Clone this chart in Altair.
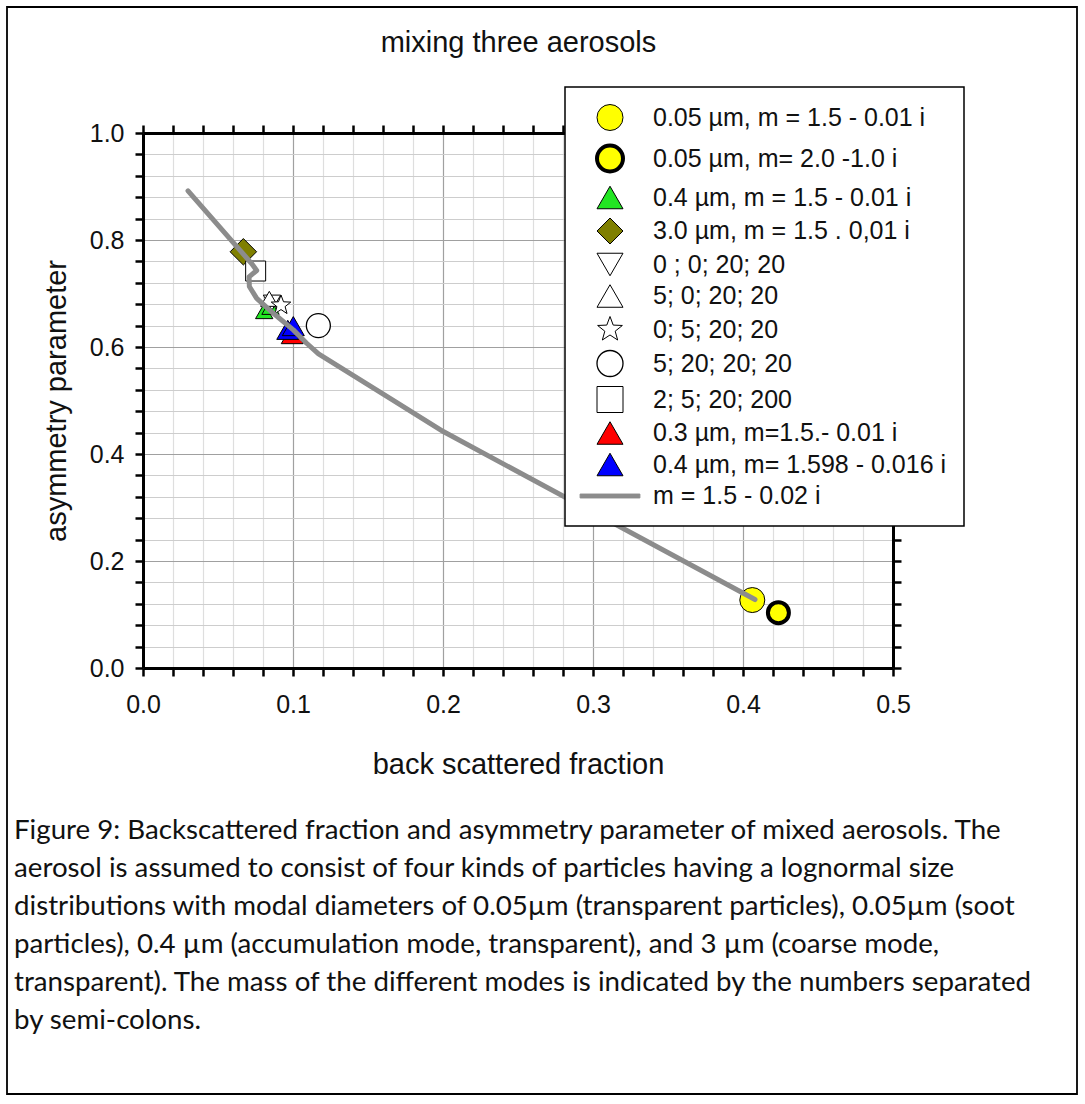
import altair as alt
import pandas as pd

# ---------------------------------------------------------------------------
# Legend entries (one per aerosol / mixture) and the model curve label
# ---------------------------------------------------------------------------
SERIES = [
    "0.05 µm, m = 1.5 - 0.01 i",
    "0.05 µm, m= 2.0 -1.0 i",
    "0.4 µm, m = 1.5 - 0.01 i",
    "3.0 µm, m = 1.5 . 0,01 i",
    "0 ; 0; 20; 20",
    "5; 0; 20; 20",
    "0; 5; 20; 20",
    "5; 20; 20; 20",
    "2; 5; 20; 200",
    "0.3 µm, m=1.5.- 0.01 i",
    "0.4 µm, m= 1.598 - 0.016 i",
]
CURVE_LABEL = "m = 1.5 - 0.02 i"

# Scatter points: series, back scattered fraction, asymmetry parameter
POINT_SERIES = [
    "0.05 µm, m = 1.5 - 0.01 i",
    "0.05 µm, m= 2.0 -1.0 i",
    "0.4 µm, m = 1.5 - 0.01 i",
    "0.4 µm, m = 1.5 - 0.01 i",
    "3.0 µm, m = 1.5 . 0,01 i",
    "0 ; 0; 20; 20",
    "5; 0; 20; 20",
    "0; 5; 20; 20",
    "5; 20; 20; 20",
    "2; 5; 20; 200",
    "0.3 µm, m=1.5.- 0.01 i",
    "0.4 µm, m= 1.598 - 0.016 i",
    "0.4 µm, m= 1.598 - 0.016 i",
]
POINT_BSF = [0.4062, 0.4236, 0.0808, 0.0850, 0.0669, 0.0860, 0.0842, 0.0920,
             0.1169, 0.0751, 0.0995, 0.0965, 0.1002]
POINT_G = [0.127, 0.1034, 0.667, 0.675, 0.778, 0.683, 0.690, 0.678,
           0.640, 0.742, 0.624, 0.632, 0.639]

# Model curve m = 1.5 - 0.02 i
CURVE_BSF = [0.030, 0.0724, 0.0758, 0.0707, 0.0709, 0.0758, 0.0869, 0.1002,
             0.1091, 0.117, 0.1647, 0.2002, 0.408]
CURVE_G = [0.892, 0.756, 0.743, 0.731, 0.713, 0.691, 0.663, 0.632,
           0.607, 0.587, 0.504, 0.442, 0.128]

# Axis ticks
X_TICKS = [0.0, 0.02, 0.04, 0.06, 0.08, 0.1, 0.12, 0.14, 0.16, 0.18, 0.2,
           0.22, 0.24, 0.26, 0.28, 0.3, 0.32, 0.34, 0.36, 0.38, 0.4,
           0.42, 0.44, 0.46, 0.48, 0.5]
Y_TICKS = [0.0, 0.04, 0.08, 0.12, 0.16, 0.2, 0.24, 0.28, 0.32, 0.36, 0.4,
           0.44, 0.48, 0.52, 0.56, 0.6, 0.64, 0.68, 0.72, 0.76, 0.8,
           0.84, 0.88, 0.92, 0.96, 1.0]

CAPTION = [
    "Figure 9: Backscattered fraction and asymmetry parameter of mixed aerosols. The",
    "aerosol is assumed to consist of four kinds of particles having a lognormal size",
    "distributions with modal diameters of 0.05µm (transparent particles), 0.05µm (soot",
    "particles), 0.4 µm (accumulation mode, transparent), and 3 µm (coarse mode,",
    "transparent). The mass of the different modes is indicated by the numbers separated",
    "by semi-colons.",
]

# ---------------------------------------------------------------------------
# Marker styling per legend entry (the last one is the grey curve)
# ---------------------------------------------------------------------------
STAR = ("M0,-1L0.247,-0.34L0.951,-0.309L0.4,0.13L0.588,0.809L0,0.42"
        "L-0.588,0.809L-0.4,0.13L-0.951,-0.309L-0.247,-0.34Z")
CURVE_SYMBOL = "M-2.3,-0.15L2.3,-0.15L2.3,0.15L-2.3,0.15Z"

LEGEND_DOMAIN = SERIES + [CURVE_LABEL]
SHAPES = ["circle", "circle", "triangle-up", "diamond", "triangle-down",
          "triangle-up", STAR, "circle", "square", "triangle-up",
          "triangle-up", CURVE_SYMBOL]
FILLS = ["#ffff00", "#ffff00", "#22e622", "#7f7f00", "white", "white",
         "white", "white", "white", "#ff0000", "#0000ff", "#8c8c8c"]
STROKES = ["black"] * 11 + ["#8c8c8c"]
STROKE_WIDTHS = [1, 4, 1, 1, 1, 1, 1, 1.3, 1, 1, 1, 1]
MARKER_AREAS = [625, 441, 300, 700, 300, 300, 420, 576, 400, 484, 484]

FONT = "Liberation Sans"
W, H = 1070, 1087          # outer framed figure
X_RANGE = [136, 886]       # plot area inside the frame
Y_RANGE = [661, 126]

points = pd.DataFrame({"series": POINT_SERIES, "bsf": POINT_BSF, "g": POINT_G})
curve = pd.DataFrame({"i": list(range(len(CURVE_BSF))), "bsf": CURVE_BSF, "g": CURVE_G})

xs = alt.Scale(domain=[0, 0.5], range=X_RANGE, nice=False, zero=False)
ys = alt.Scale(domain=[0, 1], range=Y_RANGE, nice=False, zero=False)

major_x = "abs(datum.value*10 - round(datum.value*10)) < 0.001"
major_y = "abs(datum.value*5 - round(datum.value*5)) < 0.001"

legend = alt.Legend(orient="none", legendX=558, legendY=80, title=None)

axis_common = dict(domainColor="black", domainWidth=3, tickColor="black",
                   tickWidth=2.5, tickSize=8, labelFont=FONT, labelColor="#111111",
                   titleFont=FONT, titleFontWeight="normal", titleColor="#111111",
                   labelFlush=False, labelOverlap=False)

bottom_axis = alt.Axis(orient="bottom", offset=-(H - Y_RANGE[0]), values=X_TICKS,
                       labelExpr=f"{major_x} ? format(datum.value, '.1f') : ''",
                       labelFontSize=25, labelPadding=16, title="back scattered fraction",
                       titleFontSize=29, titlePadding=33, grid=False, zindex=1,
                       **axis_common)
left_axis = alt.Axis(orient="left", offset=-X_RANGE[0], values=Y_TICKS,
                     labelExpr=f"{major_y} ? format(datum.value, '.1f') : ''",
                     labelFontSize=25, labelPadding=11, title="asymmetry parameter",
                     titleFontSize=29, titlePadding=18, grid=True,
                     gridColor={"condition": {"test": major_y, "value": "#a0a0a0"}, "value": "#cdcdcd"},
                     gridOpacity={"condition": {"test": "datum.value < 0.001 || datum.value > 0.999", "value": 0}, "value": 1},
                     gridWidth=1.2, **axis_common)
top_axis = alt.Axis(orient="top", offset=-Y_RANGE[1], values=X_TICKS, labels=False,
                    title="mixing three aerosols", titleFontSize=29, titlePadding=66,
                    grid=True,
                    gridColor={"condition": {"test": major_x, "value": "#a0a0a0"}, "value": "#dedede"},
                    gridOpacity={"condition": {"test": "datum.value < 0.001 || datum.value > 0.499", "value": 0}, "value": 1},
                    gridWidth=1.2, **axis_common)
right_axis = alt.Axis(orient="right", offset=-(W - X_RANGE[1]), values=Y_TICKS,
                      labels=False, title=None, grid=False, zindex=1, **axis_common)

marks = alt.Chart(points).mark_point(filled=True, opacity=1).encode(
    x=alt.X("bsf:Q", scale=xs, axis=bottom_axis),
    y=alt.Y("g:Q", scale=ys, axis=left_axis),
    shape=alt.Shape("series:N", scale=alt.Scale(domain=LEGEND_DOMAIN, range=SHAPES), legend=legend),
    fill=alt.Fill("series:N", scale=alt.Scale(domain=LEGEND_DOMAIN, range=FILLS), legend=legend),
    stroke=alt.Stroke("series:N", scale=alt.Scale(domain=LEGEND_DOMAIN, range=STROKES), legend=legend),
    strokeWidth=alt.StrokeWidth("series:N", scale=alt.Scale(type="ordinal", domain=LEGEND_DOMAIN, range=STROKE_WIDTHS), legend=legend),
    # marker areas use the point series only, so this scale stays out of the legend
    size=alt.Size("series:N", scale=alt.Scale(type="ordinal", domain=SERIES, range=MARKER_AREAS), legend=None),
)

line = alt.Chart(curve).mark_line(color="#8c8c8c", strokeWidth=5, strokeCap="round",
                                  strokeJoin="round").encode(
    x=alt.X("bsf:Q", scale=xs, axis=top_axis),
    y=alt.Y("g:Q", scale=ys, axis=right_axis),
    order=alt.Order("i:Q"),
)

chart = alt.layer(marks, line).properties(
    width=W, height=H,
    background="white",
    autosize=alt.AutoSizeParams(type="none"),
    padding={"left": 7, "top": 7, "right": 8, "bottom": 10},
    title=alt.TitleParams(text=CAPTION, orient="bottom", anchor="start", frame="group",
                          offset=-277, dx=7, font="Lato", fontSize=27.7, fontWeight="normal",
                          color="#111111", lineHeight=38),
).configure_view(
    stroke="black", strokeWidth=1.8
).configure_legend(
    padding=17, symbolOffset=13, labelOffset=28, rowPadding=4.5, symbolSize=676,
    labelLimit=400, labelFont=FONT, labelFontSize=25, labelColor="#111111",
    strokeColor="black", strokeWidth=1.5, fillColor="white", zindex=2,
    symbolFillColor="white", symbolStrokeColor="black",
)

chart.save("out.html", embed_options={"renderer": "svg", "actions": False})
